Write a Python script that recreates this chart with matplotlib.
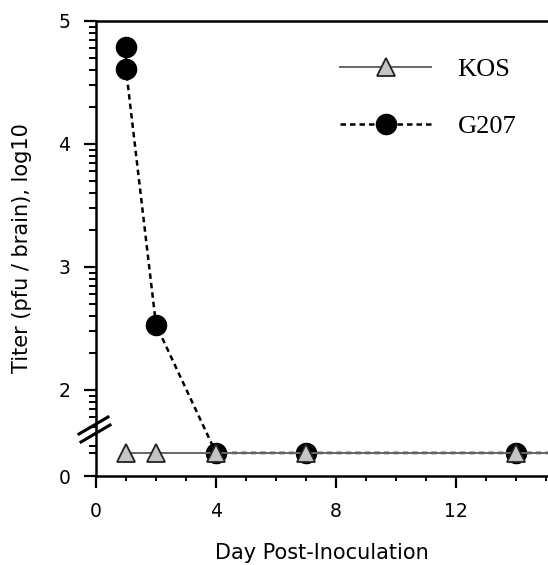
import numpy as np
import matplotlib
matplotlib.use('Agg')
import matplotlib.pyplot as plt
from matplotlib.lines import Line2D

# data (log10 titers)
kos_days = [1, 2, 4, 7, 14, 21]
kos_titer = [1.0, 1.0, 1.0, 1.0, 1.0, 1.0]
g207_days = [1, 1, 2, 4, 7, 14, 21]
g207_titer = [4.79, 4.61, 2.53, 1.0, 1.0, 1.0, 1.0]

x_major = [0, 4, 8, 12]
y_major = [0, 2, 3, 4, 5]
y_major_labels = ['0', '2', '3', '4', '5']

BREAK = 1.6      # below this the axis is squeezed (broken axis)
SQUEEZE = 0.1875


def fwd(y):
    y = np.asarray(y, dtype=float)
    return np.where(y >= BREAK, y, BREAK - (BREAK - y) * SQUEEZE)


def inv(t):
    t = np.asarray(t, dtype=float)
    return np.where(t >= BREAK, t, BREAK - (BREAK - t) / SQUEEZE)


plt.rcParams['font.family'] = ['DejaVu Sans']

W, H = 548, 565
fig = plt.figure(figsize=(W / 100, H / 100), dpi=100)
ax = fig.add_axes([96 / W, 89 / H, 1 - 96 / W, (476 - 21) / H])

ax.set_yscale('function', functions=(fwd, inv))

ax.plot(g207_days, g207_titer, color='black', lw=1.8, ls=(0, (2.2, 1.6)),
        marker='o', ms=14.5, mfc='black', mec='black', zorder=3)
ax.plot(kos_days, kos_titer, color='#666666', lw=1.4,
        marker='^', ms=13, mfc='#c4c4c4', mec='#222222', mew=1.3, zorder=4)

ax.set_xlim(0, (W - 96) / 30)
ax.set_ylim(0, 5)

ax.set_xticks(x_major)
ax.set_xticks(range(0, 16), minor=True)
ax.set_yticks(y_major)
ax.set_yticklabels(y_major_labels)
ymin = [i + np.log10(k) for i in (2, 3, 4) for k in range(2, 10)]
ymin += [1 + np.log10(k) for k in range(5, 10)] + [1.0, 1.3]
ax.set_yticks(ymin, minor=True)

ax.tick_params(which='major', direction='out', length=8.5, width=1.6, labelsize=13.5, pad=10)
ax.tick_params(axis='x', which='minor', direction='out', length=3.6, width=1.4)
ax.tick_params(axis='y', which='minor', direction='out', length=5, width=1.4)

for s in ('left', 'bottom', 'top'):
    ax.spines[s].set_linewidth(1.8)
ax.spines['right'].set_visible(False)

ax.set_xlabel('Day Post-Inoculation', fontsize=15, labelpad=16)
ax.set_ylabel('Titer (pfu / brain), log10', fontsize=15, labelpad=19)

# axis break marks
def px(x, y):
    return ((x - 96) / (W - 96), (476 - y) / (476 - 21))

for (x0, y0), (x1, y1) in [((79, 434), (108, 417)), ((81, 442), (110, 425))]:
    a, b = px(x0, y0)
    c, d = px(x1, y1)
    ax.add_line(Line2D([a, c], [b, d], transform=ax.transAxes, color='black',
                       lw=2.2, clip_on=False, zorder=5))

handles = [
    Line2D([], [], color='#666666', lw=1.4, marker='^', ms=13, mfc='#c4c4c4',
           mec='#222222', mew=1.3, label='KOS'),
    Line2D([], [], color='black', lw=1.8, ls=(0, (2.2, 1.6)), marker='o', ms=14.5,
           mfc='black', mec='black', label='G207'),
]
ax.legend(handles=handles, loc='upper left', bbox_to_anchor=(340 / W, 1 - 58 / H),
          bbox_transform=fig.transFigure, frameon=False, borderpad=0, borderaxespad=0,
          prop=dict(family='Liberation Serif', size=19), handlelength=3.45,
          handletextpad=1.0, labelspacing=1.25, numpoints=1)

fig.savefig('out.png', dpi=100)
